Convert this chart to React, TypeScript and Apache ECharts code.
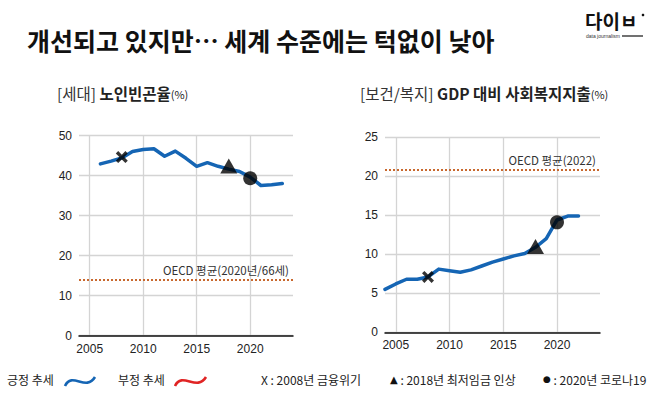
import React, { useEffect, useRef } from 'react';
import * as echarts from 'echarts';

const years = ['2004', '2005', '2006', '2007', '2008', '2009', '2010', '2011', '2012', '2013', '2014', '2015', '2016', '2017', '2018', '2019', '2020', '2021', '2022', '2023', '2024'];
const povertyRate = [null, null, 42.9, 43.6, 44.4, 46.0, 46.5, 46.7, 44.8, 46.1, 44.3, 42.3, 43.2, 42.3, 41.6, 41.0, 39.6, 37.5, 37.7, 38.0, null];
const socialSpending = [5.5, 6.2, 6.8, 6.8, 7.1, 8.1, 7.9, 7.7, 8.0, 8.5, 9.0, 9.4, 9.8, 10.1, 10.9, 12.0, 14.4, 14.9, 14.9, null, null];
const povertyEvents = [['2008', 44.6, 'x'], ['2018', 42.4, 'tri'], ['2020', 39.3, 'dot']];
const spendingEvents = [['2008', 7.1, 'x'], ['2018', 11.0, 'tri'], ['2020', 14.1, 'dot']];
const oecdPoverty = 14;
const oecdSpending = 20.9;
const oecdPovertyLabel = 'OECD 평균(2020년/66세)';
const oecdSpendingLabel = 'OECD 평균(2022)';

const BLUE = '#1565b4';
const RED = '#e02424';
const OECD_COLOR = '#c8682e';
const GRID = '#d4d4d4';
const KR = "'Noto Sans CJK KR', 'Noto Sans', sans-serif";
const NUM = "'Liberation Sans', Arial, sans-serif";
const NARROW = "'Liberation Sans Narrow', 'Noto Sans CJK KR', sans-serif";

const X_PATH = 'path://M2,0 L5,3 L8,0 L10,2 L7,5 L10,8 L8,10 L5,7 L2,10 L0,8 L3,5 L0,2 Z';

const everyFive = (_i: number, v: string) => Number(v) % 5 === 0;

function xAxisFor(gridIndex: number) {
  return {
    type: 'category',
    gridIndex,
    data: years,
    boundaryGap: false,
    axisLine: { show: true, lineStyle: { color: '#111', width: 1.5 } },
    axisTick: { show: false },
    axisLabel: { interval: everyFive, color: '#222', fontFamily: NUM, fontSize: 12, margin: 7 },
    splitLine: { show: true, interval: everyFive, lineStyle: { color: GRID, width: 1.3 } },
  };
}

function yAxisFor(gridIndex: number, max: number, interval: number) {
  return {
    type: 'value',
    gridIndex,
    min: 0,
    max,
    interval,
    axisLine: { show: false },
    axisTick: { show: false },
    axisLabel: { color: '#222', fontFamily: NUM, fontSize: 12, margin: 7 },
    splitLine: { show: true, lineStyle: { color: GRID, width: 1.3 } },
  };
}

function eventSeries(idx: number, events: any[]) {
  return {
    type: 'scatter',
    xAxisIndex: idx,
    yAxisIndex: idx,
    z: 5,
    data: events.map((e) => ({
      value: [e[0], e[1]],
      symbol: e[2] === 'x' ? X_PATH : e[2] === 'tri' ? 'triangle' : 'circle',
      symbolSize: e[2] === 'x' ? 12 : e[2] === 'tri' ? [17, 15] : 14,
    })),
    itemStyle: { color: '#000' },
  };
}

function lineSeries(idx: number, data: any[], oecd: number, label: string) {
  return {
    type: 'line',
    xAxisIndex: idx,
    yAxisIndex: idx,
    data,
    symbol: 'none',
    connectNulls: false,
    lineStyle: { color: BLUE, width: 3.5, join: 'round', cap: 'round' },
    z: 3,
    markLine: {
      silent: true,
      symbol: 'none',
      lineStyle: { color: OECD_COLOR, type: [2, 2], width: 1.8 },
      label: {
        position: 'insideEndTop',
        formatter: label,
        color: '#333',
        fontFamily: NARROW,
        fontSize: 11.5,
        distance: 4,
      },
      data: [{ yAxis: oecd }],
    },
  };
}

const subRich = {
  a: { fontFamily: KR, fontSize: 15.5, fill: '#333', fontWeight: 'normal' },
  b: { fontFamily: KR, fontSize: 15.5, fill: '#222', fontWeight: 'bold' },
  c: { fontFamily: KR, fontSize: 11, fill: '#222', fontWeight: 'normal', padding: [3, 0, 0, 0] },
};

const legendRich = {
  t: { fontFamily: NARROW, fontSize: 12, fill: '#222' },
  d: { fontFamily: 'DejaVu Sans', fontSize: 9, fill: '#111' },
  e: { fontFamily: 'DejaVu Sans', fontSize: 10, fill: '#111' },
};

const option: any = {
  animation: false,
  backgroundColor: '#fff',
  grid: [
    { left: 79, top: 135.5, width: 214, height: 200 },
    { left: 385, top: 137.3, width: 215, height: 195 },
  ],
  xAxis: [xAxisFor(0), xAxisFor(1)],
  yAxis: [yAxisFor(0, 50, 10), yAxisFor(1, 25, 5)],
  series: [
    lineSeries(0, povertyRate, oecdPoverty, oecdPovertyLabel),
    lineSeries(1, socialSpending, oecdSpending, oecdSpendingLabel),
    eventSeries(0, povertyEvents),
    eventSeries(1, spendingEvents),
  ],
  graphic: [
    {
      type: 'text', left: 27, top: 27,
      style: { text: '개선되고 있지만… 세계 수준에는 턱없이 낮아', fontFamily: KR, fontWeight: 'bold', fontSize: 25, fill: '#111' },
    },
    // logo
    { type: 'text', left: 585, top: 11, style: { text: '다이ㅂ', fontFamily: KR, fontWeight: 'bold', fontSize: 19, fill: '#111' } },
    { type: 'circle', shape: { cx: 643, cy: 15, r: 1.3 }, style: { fill: '#111' } },
    { type: 'text', left: 586, top: 33, style: { text: 'data journalism', fontFamily: NUM, fontSize: 5, fill: '#333' } },
    { type: 'line', shape: { x1: 622, y1: 36, x2: 643, y2: 36 }, style: { stroke: '#111', lineWidth: 1.2 } },
    // panel titles
    { type: 'text', left: 57, top: 85, style: { text: '{a|[세대] }{b|노인빈곤율}{c|(%)}', rich: subRich } },
    { type: 'text', left: 360, top: 85, style: { text: '{a|[보건/복지] }{b|GDP 대비 사회복지지출}{c|(%)}', rich: subRich } },
    // legend
    { type: 'text', left: 7, top: 373, style: { text: '긍정 추세', fontFamily: KR, fontSize: 12, fill: '#222' } },
    {
      type: 'bezierCurve',
      shape: { x1: 65, y1: 386, cpx1: 72, cpy1: 371, cpx2: 86, cpy2: 392, x2: 95, y2: 377 },
      style: { stroke: BLUE, lineWidth: 2.6, fill: 'none' },
    },
    { type: 'text', left: 118, top: 373, style: { text: '부정 추세', fontFamily: KR, fontSize: 12, fill: '#222' } },
    {
      type: 'bezierCurve',
      shape: { x1: 175, y1: 386, cpx1: 182, cpy1: 371, cpx2: 197, cpy2: 392, x2: 206, y2: 377 },
      style: { stroke: RED, lineWidth: 2.6, fill: 'none' },
    },
    { type: 'text', left: 261, top: 373, style: { text: 'X : 2008년 금융위기', fontFamily: NARROW, fontSize: 12, fill: '#222' } },
    { type: 'text', left: 390, top: 373, style: { text: '{e|▲}{t| : 2018년 최저임금 인상}', rich: legendRich } },
    { type: 'text', left: 543, top: 373, style: { text: '{d|●}{t| : 2020년 코로나19}', rich: legendRich } },
  ],
};

export default function App() {
  const ref = useRef<HTMLDivElement>(null);
  useEffect(() => {
    const chart = echarts.init(ref.current!, null, { renderer: 'svg' });
    chart.setOption(option);
    return () => chart.dispose();
  }, []);
  return (
    <div
      ref={ref}
      style={{ position: 'fixed', left: 0, top: 0, width: 658, height: 394, background: '#fff' }}
    />
  );
}
